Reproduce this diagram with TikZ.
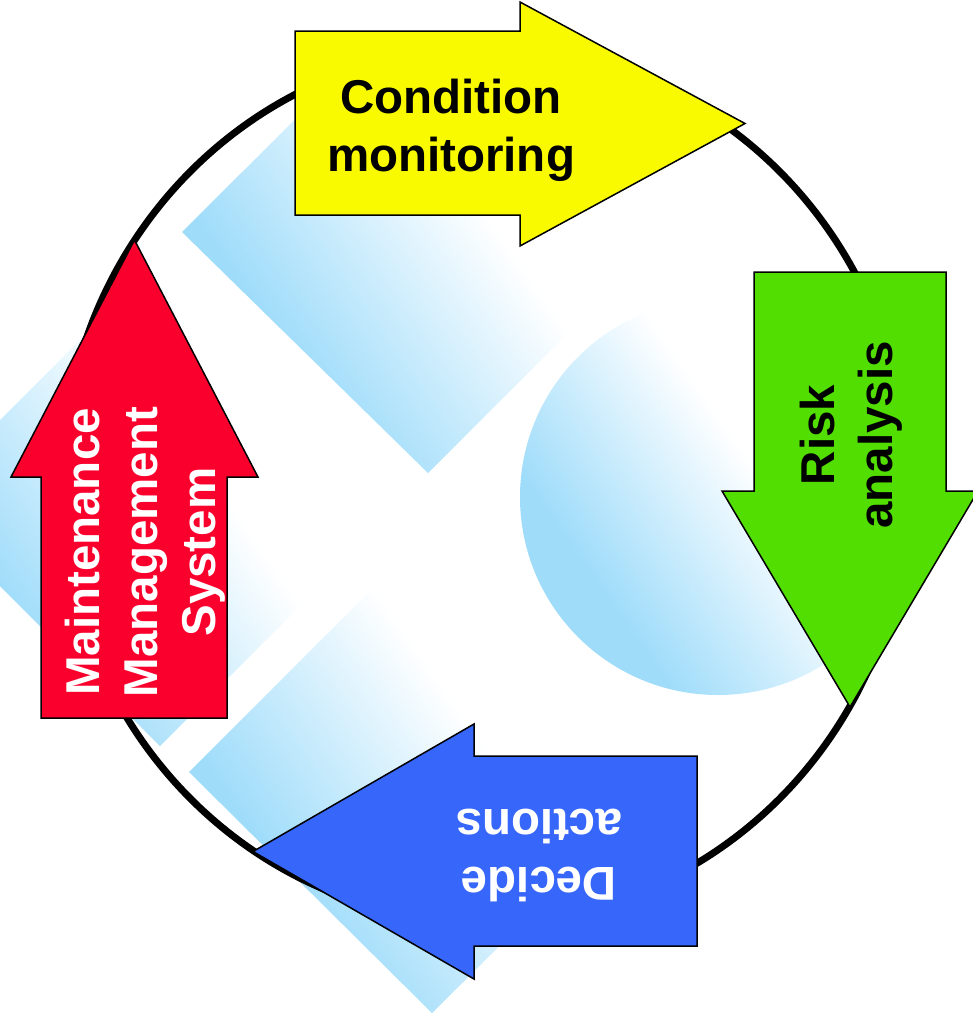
\documentclass[tikz,border=0pt]{standalone}
\usepackage{fontspec}
\setmainfont{Liberation Sans}
\definecolor{condyellow}{RGB}{249,250,0}
\definecolor{riskgreen}{RGB}{82,222,0}
\definecolor{mmsred}{RGB}{250,0,45}
\definecolor{actblue}{RGB}{55,102,250}
\definecolor{skyb}{RGB}{158,220,250}
\pgfdeclareverticalshading{bgfade}{100bp}{color(0bp)=(skyb); color(31bp)=(skyb);
  color(56bp)=(white); color(100bp)=(white)}

\begin{document}
\begin{tikzpicture}[x=1pt,y=-1pt,
  blockarrow/.style={draw=black,line width=1.5pt,line join=miter},
  bgpiece/.style={shading=bgfade,shading angle=-55},
  lbl/.style={font=\bfseries\fontsize{47.5}{58}\selectfont,align=center,inner sep=0pt}]
\clip (0,0) rectangle (973,1023);
% pale background
\shade[bgpiece] (182,232) -- (428,473) -- (671,230) -- (428,-13) -- cycle;
\shade[bgpiece] (-83,503) -- (160,746) -- (403,503) -- (160,260) -- cycle;
\shade[bgpiece] (189,772) -- (432,1013) -- (675,772) -- (432,529) -- cycle;
\shade[bgpiece] (718,497) circle (198);
% the cycle
\draw[line width=7pt] (485,485) ellipse (423 and 437);
% four block arrows
\draw[blockarrow,fill=condyellow] (295,31) -- (520,31) -- (520,2) -- (745,123.5)
  -- (520,246) -- (520,215) -- (295,215) -- cycle;
\draw[blockarrow,fill=riskgreen] (754,272) -- (946,272) -- (946,491) -- (978,491)
  -- (850,707) -- (722,491) -- (754,491) -- cycle;
\draw[blockarrow,fill=actblue] (697,756) -- (474,756) -- (474,724) -- (253,851.5)
  -- (474,979) -- (474,946) -- (697,946) -- cycle;
\draw[blockarrow,fill=mmsred] (41,718) -- (41,477) -- (11,477) -- (134.5,240)
  -- (258,477) -- (227,477) -- (227,718) -- cycle;
% labels
\node[lbl] (cm) at (451,130) {Condition\\monitoring};
\node[lbl,rotate=90] (risk) at (851,435) {Risk\\analysis};
\node[lbl,rotate=180,text=white] (act) at (539,855) {Decide\\actions};
\node[lbl,rotate=90,text=white] (mms) at (145,552) {Maintenance\\Management\\System};
\end{tikzpicture}
\end{document}
